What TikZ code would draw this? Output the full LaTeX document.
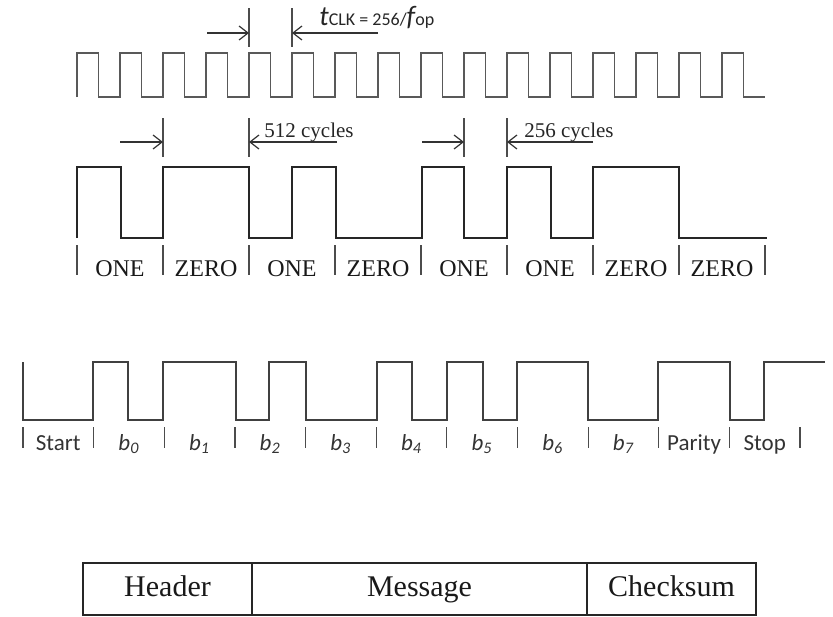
\documentclass[tikz,border=0pt]{standalone}
\usepackage{fontspec}
\setmainfont{Liberation Serif}
\newfontfamily\framefont{Carlito}
\usetikzlibrary{arrows.meta}

\begin{document}
\begin{tikzpicture}[x=0.5pt, y=-0.5pt,
  clock/.style={line width=0.8pt, draw=black!65},
  wave/.style={line width=1.3pt, draw=black!85},
  uart/.style={line width=1pt, draw=black!75},
  tick/.style={line width=0.6pt, draw=black!70},
  dim/.style={line width=0.6pt, draw=black!80, -{Straight Barb[length=4.5pt,width=7pt]}},
  bit/.style={anchor=base, text=black!90, font=\fontsize{12}{14}\selectfont},
  cycles/.style={anchor=base west, inner sep=0pt, text=black!85, font=\fontsize{10.5}{12}\selectfont},
  field/.style={anchor=base, text=black!80, font=\framefont\fontsize{11.5}{13}\selectfont},
  cell/.style={draw=black!85, line width=1pt, anchor=west, outer sep=0pt, minimum height=26pt,
    text height=10.5pt, text depth=3.5pt, text=black!90, font=\fontsize{15}{17}\selectfont}
]
\useasboundingbox (0,0) rectangle (833,616);

% clock
\draw[clock] (77,97) \foreach \i in {0,...,15} { -- ++(0,-44) -- ++(21.5,0) -- ++(0,44) -- ++(21.5,0) };
\coordinate (ck1) at (249,33);
\coordinate (ck2) at (292,33);
\draw[tick] (249,8) -- (249,47);
\draw[tick] (292,8) -- (292,47);
\draw[dim] (207,33) -- (ck1);
\draw[dim] (378,33) -- (ck2);
\node[anchor=base west, inner sep=0pt, text=black!85, font=\framefont] (tclk) at (319,25)
  {{\fontsize{14}{16}\selectfont\itshape t}{\fontsize{9}{10}\selectfont CLK = 256/}{\fontsize{14}{16}\selectfont\itshape f}{\fontsize{9}{10}\selectfont op}};

% coded bits
\draw[wave] (77,238) -- (77,167) -- (121,167) -- (121,238) -- (163,238) -- (163,167) -- (249,167)
  -- (249,238) -- (292,238) -- (292,167) -- (336,167) -- (336,238) -- (422,238) -- (422,167)
  -- (464,167) -- (464,238) -- (507,238) -- (507,167) -- (551,167) -- (551,238) -- (593,238)
  -- (593,167) -- (679,167) -- (679,238) -- (767,238);
\coordinate (c1) at (163,142);
\coordinate (c2) at (249,142);
\coordinate (c3) at (464,142);
\coordinate (c4) at (507,142);
\foreach \x in {163,249,464,507} \draw[tick] (\x,118) -- (\x,157);
\draw[dim] (120,142) -- (c1);
\draw[dim] (337,142) -- (c2);
\draw[dim] (422,142) -- (c3);
\draw[dim] (593,142) -- (c4);
\node[cycles] (long) at (264,137) {512 cycles};
\node[cycles] (short) at (524,137) {256 cycles};
\foreach \i in {0,...,8} \draw[tick] ({77+86*\i},245) -- ({77+86*\i},275);
\foreach \lbl [count=\i from 0] in {ONE,ZERO,ONE,ZERO,ONE,ONE,ZERO,ZERO}
  \node[bit] (m\i) at ({120+86*\i},276) {\lbl};

% serial frame
\draw[uart] (23,362) -- (23,420) -- (93,420) -- (93,362) -- (128,362) -- (128,420) -- (163,420)
  -- (163,362) -- (236,362) -- (236,420) -- (269,420) -- (269,362) -- (306,362) -- (306,420)
  -- (377,420) -- (377,362) -- (412,362) -- (412,420) -- (447,420) -- (447,362) -- (483,362)
  -- (483,420) -- (517,420) -- (517,362) -- (588,362) -- (588,420) -- (658,420) -- (658,362)
  -- (730,362) -- (730,420) -- (764,420) -- (764,362) -- (825,362);
\foreach \i in {0,...,11} \draw[tick] ({23+70.64*\i},427) -- ({23+70.64*\i},448);
\foreach \lbl [count=\i from 0] in {Start,
    {\itshape b\textsubscript{0}},{\itshape b\textsubscript{1}},{\itshape b\textsubscript{2}},
    {\itshape b\textsubscript{3}},{\itshape b\textsubscript{4}},{\itshape b\textsubscript{5}},
    {\itshape b\textsubscript{6}},{\itshape b\textsubscript{7}},Parity,Stop}
  \node[field] (f\i) at ({58.3+70.64*\i},450) {\lbl};

% packet
\node[cell, minimum width=84.5pt] (header) at (83,589) {Header};
\node[cell, minimum width=167.5pt] (message) at (header.east) {Message};
\node[cell, minimum width=84.5pt] (checksum) at (message.east) {Checksum};
\end{tikzpicture}
\end{document}
